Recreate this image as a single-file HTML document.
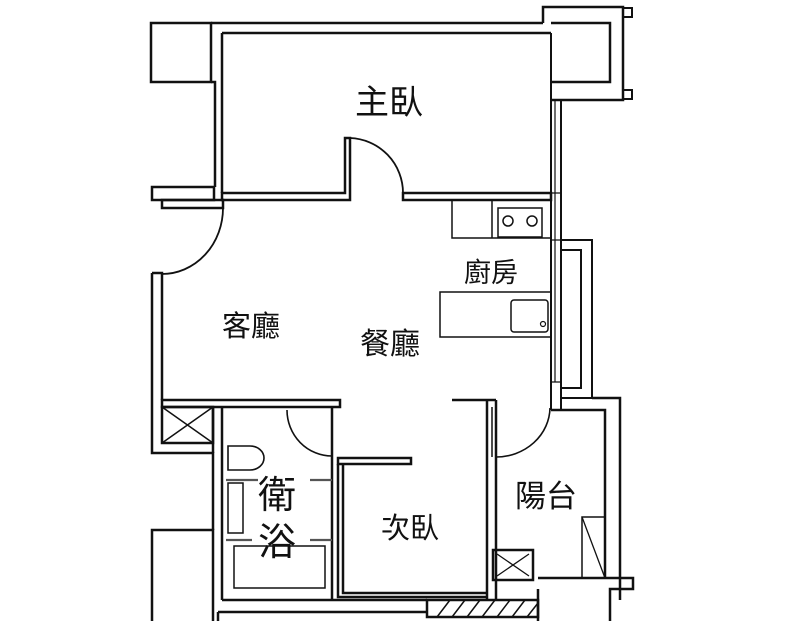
<!DOCTYPE html>
<html><head><meta charset="utf-8"><style>
html,body{margin:0;padding:0;background:#fff;width:800px;height:621px;overflow:hidden}
text{font-family:"Liberation Sans","Noto Sans CJK TC",sans-serif;fill:#111}
</style></head><body>
<svg width="800" height="621" viewBox="0 0 800 621" xmlns="http://www.w3.org/2000/svg">
<g fill="none" stroke="#111" stroke-width="2.5">
<rect x="151" y="23" width="60" height="59"/>
<path d="M211 23 H543 M222 33 H551 M211 82 H215 V187 M222 33 V193"/>
<rect x="152" y="187" width="62" height="13"/>
<rect x="162" y="200" width="61" height="8"/>
<path d="M222 193 H345 V138 H350 V200 H222 Z"/>
<path d="M403 193 H551 V200 H403 Z"/>
<path d="M350 138 A55 55 0 0 1 403 193" stroke-width="1.8"/>
<path d="M543 23 V7 H623 V100 H551 M551 23 H610 V82 H551"/>
<rect x="623" y="8" width="9" height="9" stroke-width="2"/>
<rect x="623" y="90" width="9" height="9" stroke-width="2"/>
<path d="M551 33 V410 M561 100 V410" stroke-width="2"/>
<path d="M555 100 V382" stroke-width="1.2"/>
<path d="M551 382 H561 M551 240 H561 M551 193 H561" stroke-width="1.2"/>
<rect x="452" y="200" width="99" height="38" stroke-width="1.5"/>
<path d="M492 200 V238" stroke-width="1.5"/>
<rect x="498" y="208" width="44" height="29" stroke-width="1.5"/>
<circle cx="508" cy="221" r="5" stroke-width="1.5"/>
<circle cx="532" cy="221" r="5" stroke-width="1.5"/>
<path d="M561 240 H592 V398 H561 M561 250 H581 V388 H561" stroke-width="2"/>
<rect x="440" y="292" width="111" height="45" stroke-width="1.5"/>
<rect x="511" y="300" width="37" height="32" rx="3" stroke-width="1.5"/>
<circle cx="543" cy="324" r="2.5" stroke-width="1.2"/>
<path d="M223 208 A61 66 0 0 1 162 274" stroke-width="1.8"/>
<path d="M152 273 H162 V400 M152 273 V453 H213 V530"/>
<rect x="162" y="400" width="178" height="7"/>
<rect x="162" y="407" width="51" height="36"/>
<path d="M162 407 L213 443 M213 407 L162 443" stroke-width="1.5"/>
<path d="M213 407 V453 M222 407 V600"/>
<rect x="152" y="530" width="61" height="95"/>
<path d="M222 600 H427 M218 612 H427 M218 612 V621" />
<path d="M332 407 V600"/>
<path d="M287 410 A45 46 0 0 0 332 456" stroke-width="1.6"/>
<path d="M228 446 H250 A14 12 0 0 1 250 470 H228 Z" stroke-width="1.6"/>
<rect x="228" y="483" width="15" height="50" stroke-width="1.5"/>
<path d="M226 480 H258 M310 480 H332 M226 540 H252 M310 540 H332" stroke-width="2.2" stroke="#555"/>
<rect x="234" y="546" width="91" height="42" stroke-width="1.5"/>
<rect x="338" y="458" width="73" height="6"/>
<path d="M338 464 V597 H487 M343 464 V593 H487"/>
<path d="M452 400 H487 V600 M496 400 V600 M487 400 H496" />
<path d="M492 407 V457" stroke-width="1.5"/>
<path d="M496 457 A54 50 0 0 0 550 408" stroke-width="1.6"/>
<path d="M551 410 H605 V578 M592 398 H620 V600 M620 578 V589"/>
<rect x="493" y="550" width="40" height="30"/>
<path d="M497 554 L529 576 M529 554 L497 576" stroke-width="1.3"/>
<rect x="582" y="517" width="23" height="61" stroke-width="1.5"/>
<path d="M582 517 L605 578" stroke-width="1.3"/>
<path d="M538 578 H633 V589 H610 V621 M538 589 V621"/>
<rect x="427" y="600" width="111" height="17"/>
<path d="M437 617 L450 600 M452 617 L465 600 M467 617 L480 600 M482 617 L495 600 M497 617 L510 600 M512 617 L525 600 M527 617 L538 603" stroke-width="1.5"/>
</g>
<text x="355" y="114" font-size="34">主臥</text>
<text x="464" y="282" font-size="27">廚房</text>
<text x="222" y="336" font-size="29">客廳</text>
<text x="360" y="354" font-size="30">餐廳</text>
<text x="258" y="508" font-size="38">衛</text>
<text x="258" y="555" font-size="38">浴</text>
<text x="381" y="538" font-size="29">次臥</text>
<text x="515" y="507" font-size="31">陽台</text>
</svg>
</body></html>
